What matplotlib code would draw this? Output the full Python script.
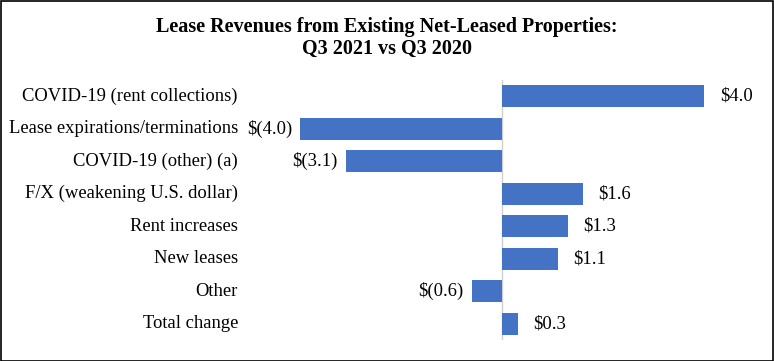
import matplotlib.pyplot as plt
from matplotlib.patches import Rectangle

# ── Data ──────────────────────────────────────────────────────────────────────
categories = [
    "COVID-19 (rent collections)",
    "Lease expirations/terminations",
    "COVID-19 (other) (a)",
    "F/X (weakening U.S. dollar)",
    "Rent increases",
    "New leases",
    "Other",
    "Total change",
]
values = [4.0, -4.0, -3.1, 1.6, 1.3, 1.1, -0.6, 0.3]

BAR_COLOR = "#4472C4"
FS = 13.4
plt.rcParams["font.family"] = ["Liberation Serif", "DejaVu Serif"]


def fmt(v):
    return f"${v:.1f}" if v >= 0 else f"$({abs(v):.1f})"


fig = plt.figure(figsize=(7.74, 3.61), dpi=100)
W, H = 774, 361
# axes placed in pixel coords: x 260..760, y 80..340 (from top)
ax = fig.add_axes([260 / W, 1 - 340 / H, 500 / W, 260 / H])

y = list(range(len(categories)))
ax.barh(y, values, height=0.68, color=BAR_COLOR)
ax.set_xlim(-4.8, 5.1)
ax.set_ylim(len(categories) - 0.5, -0.5)

ax.axvline(0, color="#d0d0d0", lw=1, zorder=0)

for yi, v in zip(y, values):
    if v >= 0:
        ax.annotate(fmt(v), (v, yi), xytext=(11, 0), textcoords="offset points",
                    ha="left", va="center", fontsize=FS)
    else:
        ax.annotate(fmt(v), (v, yi), xytext=(-6, 0), textcoords="offset points",
                    ha="right", va="center", fontsize=FS)

for s in ax.spines.values():
    s.set_visible(False)
ax.set_xticks([])
ax.set_yticks([])

# category labels right-aligned at x ~ 238 px
for yi, c in zip(y, categories):
    ax.annotate(c, (0, yi), xycoords=("figure pixels", "data"),
                xytext=(238, 0), textcoords=("figure pixels", "offset points"),
                ha="right", va="center", fontsize=FS)

fig.text(0.5, 1 - 27 / H, "Lease Revenues from Existing Net-Leased Properties:",
         ha="center", va="center", fontsize=14.5, fontweight="bold")
fig.text(0.5, 1 - 49 / H, "Q3 2021 vs Q3 2020",
         ha="center", va="center", fontsize=14.5, fontweight="bold")

fig.patches.append(Rectangle((0.5 / W, 0.5 / H), 1 - 1.5 / W, 1 - 1.5 / H,
                             transform=fig.transFigure, fill=False,
                             edgecolor="black", lw=1.2))

fig.savefig("out.png", dpi=100)
